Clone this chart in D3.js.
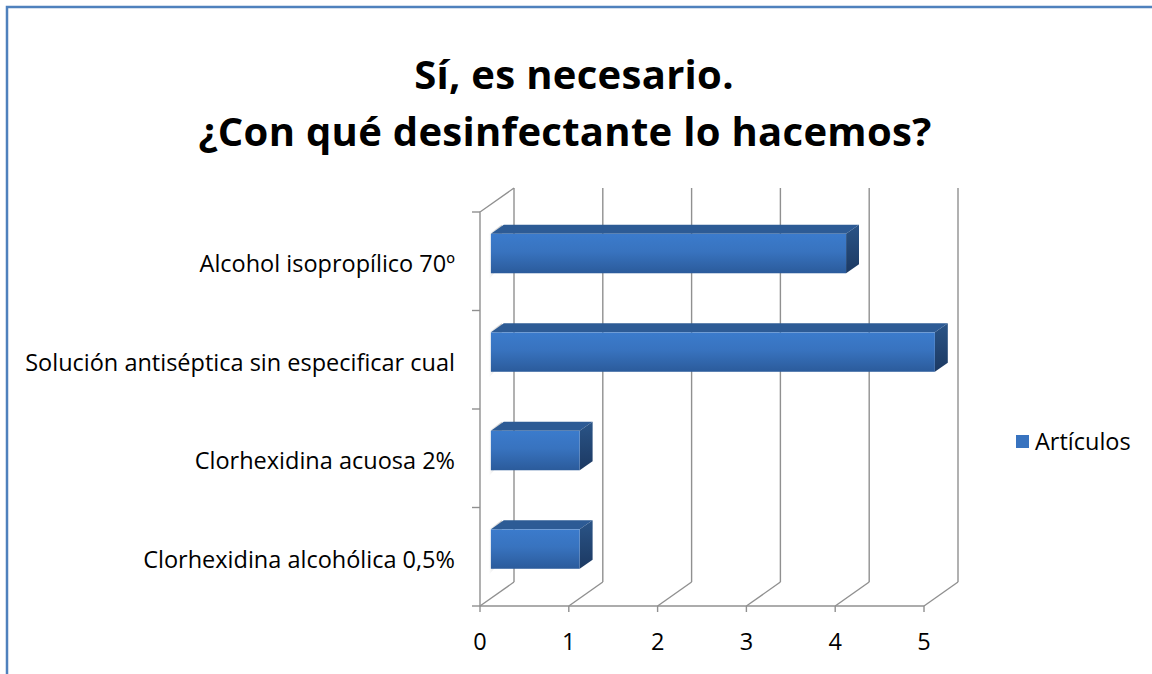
<!DOCTYPE html>
<html>
<head>
<meta charset="utf-8">
<script src="https://cdn.jsdelivr.net/npm/d3@7"></script>
<style>
  body { margin: 0; background: #fff; }
  text { font-family: "Open Sans", Lato, sans-serif; fill: #000; }
</style>
</head>
<body>
<div id="app"></div>
<script>
const WIDTH = 1152;
const HEIGHT = 674;

// data
const titleLines = ['Sí, es necesario.', '¿Con qué desinfectante lo hacemos?'];
const categories = [
  'Alcohol isopropílico 70º',
  'Solución antiséptica sin especificar cual',
  'Clorhexidina acuosa 2%',
  'Clorhexidina alcohólica 0,5%'
];
const values = [4, 5, 1, 1];
const xTicks = [0, 1, 2, 3, 4, 5];
const seriesName = 'Artículos';

// 3d look: how far the back wall sits from the front plane
const depthX = 34;
const depthY = -24;

const svg = d3.select('#app')
  .append('svg')
  .attr('width', WIDTH)
  .attr('height', HEIGHT);

// chart area border
svg.append('path')
  .attr('d', `M7,${HEIGHT + 5} L7,7 L${WIDTH + 5},7`)
  .attr('fill', 'none')
  .attr('stroke', '#4f81bd')
  .attr('stroke-width', 2.5);

const x = d3.scaleLinear().domain([0, 5]).range([480, 924]);
const y = d3.scaleBand().domain(categories).range([212, 606]);

// shift a point toward the back wall, d from 0 (front) to 1 (back)
const px = (v, d) => x(v) + depthX * d;
const py = (yy, d) => yy + depthY * d;

const defs = svg.append('defs');
const gFront = defs.append('linearGradient').attr('id', 'front').attr('x1', 0).attr('y1', 0).attr('x2', 0).attr('y2', 1);
gFront.append('stop').attr('offset', '0%').attr('stop-color', '#3b7bcc');
gFront.append('stop').attr('offset', '45%').attr('stop-color', '#3873bf');
gFront.append('stop').attr('offset', '100%').attr('stop-color', '#2b5b9b');
const gSide = defs.append('linearGradient').attr('id', 'side').attr('x1', 0).attr('y1', 0).attr('x2', 0).attr('y2', 1);
gSide.append('stop').attr('offset', '0%').attr('stop-color', '#2a5487');
gSide.append('stop').attr('offset', '100%').attr('stop-color', '#1c3962');
const gShadow = defs.append('linearGradient').attr('id', 'shade').attr('x1', 0).attr('y1', 0).attr('x2', 1).attr('y2', 0);
gShadow.append('stop').attr('offset', '0%').attr('stop-color', '#ffffff');
gShadow.append('stop').attr('offset', '100%').attr('stop-color', '#b5b5b5');

const gridColor = '#909090';
const grid = svg.append('g')
  .attr('fill', 'none')
  .attr('stroke', gridColor)
  .attr('stroke-width', 1.4);

const yTop = y.range()[0];
const yBot = y.range()[1];

// back wall gridlines
grid.selectAll('.back')
  .data(xTicks)
  .enter()
  .append('line')
  .attr('x1', d => px(d, 1))
  .attr('x2', d => px(d, 1))
  .attr('y1', py(yTop, 1))
  .attr('y2', py(yBot, 1));

// floor lines
grid.selectAll('.floor')
  .data(xTicks)
  .enter()
  .append('line')
  .attr('x1', d => px(d, 0))
  .attr('y1', yBot)
  .attr('x2', d => px(d, 1))
  .attr('y2', py(yBot, 1));

// left wall
grid.append('path')
  .attr('d', `M${px(0, 0)},${yBot} L${px(0, 0)},${yTop} L${px(0, 1)},${py(yTop, 1)}`);

// front baseline
grid.append('line')
  .attr('x1', x(0)).attr('x2', x(5))
  .attr('y1', yBot).attr('y2', yBot);

// x ticks
grid.selectAll('.xt')
  .data(xTicks)
  .enter()
  .append('line')
  .attr('x1', d => x(d)).attr('x2', d => x(d))
  .attr('y1', yBot).attr('y2', yBot + 6);

// y ticks at band edges
const yEdges = categories.map(c => y(c)).concat([yBot]);
grid.selectAll('.yt')
  .data(yEdges)
  .enter()
  .append('line')
  .attr('x1', x(0) - 8).attr('x2', x(0))
  .attr('y1', d => d).attr('y2', d => d);

// bars
const dFront = 0.32;
const dBack = 0.70;
const barH = y.bandwidth() / 2.5;

const bars = svg.append('g')
  .selectAll('g')
  .data(categories.map((c, i) => ({ c, v: values[i] })))
  .enter()
  .append('g');

bars.each(function (d) {
  const g = d3.select(this);
  const yc = y(d.c) + y.bandwidth() / 2;
  const t = yc - barH / 2;
  const b = yc + barH / 2;
  const x0f = px(0, dFront), x1f = px(d.v, dFront);
  const x0b = px(0, dBack), x1b = px(d.v, dBack);
  const tf = py(t, dFront), bf = py(b, dFront);
  const tb = py(t, dBack), bb = py(b, dBack);

  // soft shadow at the left end
  g.append('path')
    .attr('d', `M${x0f - 2},${tf} L${x0b - 2},${tb} L${x0b - 2},${bb} L${x0f - 2},${bf + 6} Z`)
    .attr('fill', 'url(#shade)')
    .attr('opacity', 0.8);

  // top face
  g.append('path')
    .attr('d', `M${x0f},${tf} L${x0b},${tb} L${x1b},${tb} L${x1f},${tf} Z`)
    .attr('fill', '#2d5b95');

  // right face
  g.append('path')
    .attr('d', `M${x1f},${tf} L${x1b},${tb} L${x1b},${bb} L${x1f},${bf} Z`)
    .attr('fill', 'url(#side)');

  // front face
  g.append('rect')
    .attr('x', x0f)
    .attr('y', tf)
    .attr('width', x1f - x0f)
    .attr('height', bf - tf)
    .attr('fill', 'url(#front)');
});

// category labels
svg.append('g')
  .selectAll('text')
  .data(categories)
  .enter()
  .append('text')
  .attr('x', 455)
  .attr('y', d => y(d) + y.bandwidth() / 2 + 3)
  .attr('dy', '0.35em')
  .attr('text-anchor', 'end')
  .attr('font-size', '23.5px')
  .text(d => d);

// x labels
svg.append('g')
  .selectAll('text')
  .data(xTicks)
  .enter()
  .append('text')
  .attr('x', d => x(d))
  .attr('y', 650)
  .attr('text-anchor', 'middle')
  .attr('font-size', '23.5px')
  .text(d => d);

// title
svg.append('g')
  .selectAll('text')
  .data(titleLines)
  .enter()
  .append('text')
  .attr('x', (d, i) => i === 0 ? 574 : 565)
  .attr('y', (d, i) => 89 + i * 57)
  .attr('text-anchor', 'middle')
  .attr('font-size', '40px')
  .attr('font-weight', 'bold')
  .attr('letter-spacing', '0.3px')
  .text(d => d);

// legend
svg.append('rect')
  .attr('x', 1016)
  .attr('y', 435)
  .attr('width', 13)
  .attr('height', 13)
  .attr('fill', '#3873bf');

svg.append('text')
  .attr('x', 1035)
  .attr('y', 450)
  .attr('font-size', '23.5px')
  .text(seriesName);
</script>
</body>
</html>
